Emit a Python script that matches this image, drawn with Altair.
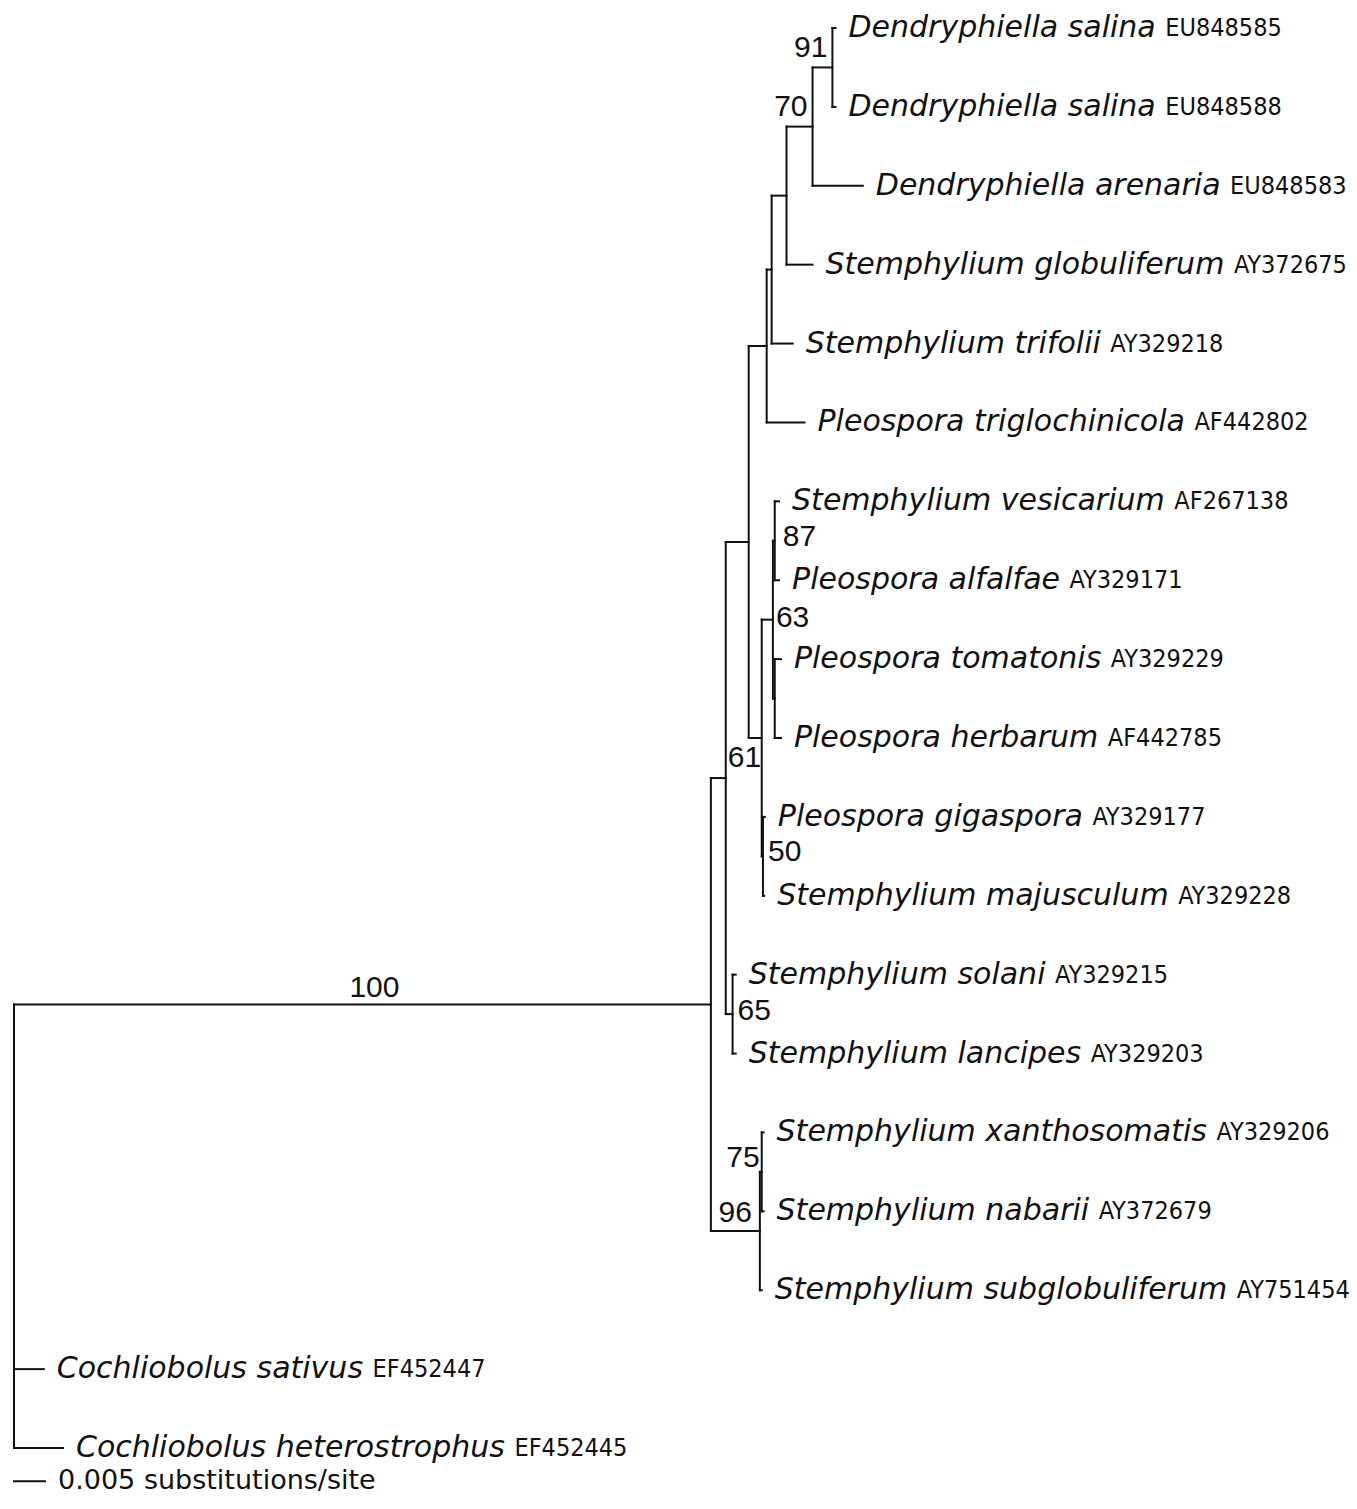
import altair as alt
import pandas as pd

# ---------------- data ----------------
tip_names = [
    "Dendryphiella salina", "Dendryphiella salina", "Dendryphiella arenaria",
    "Stemphylium globuliferum", "Stemphylium trifolii", "Pleospora triglochinicola",
    "Stemphylium vesicarium", "Pleospora alfalfae", "Pleospora tomatonis",
    "Pleospora herbarum", "Pleospora gigaspora", "Stemphylium majusculum",
    "Stemphylium solani", "Stemphylium lancipes", "Stemphylium xanthosomatis",
    "Stemphylium nabarii", "Stemphylium subglobuliferum",
    "Cochliobolus sativus", "Cochliobolus heterostrophus",
]
tip_accessions = [
    "EU848585", "EU848588", "EU848583", "AY372675", "AY329218", "AF442802",
    "AF267138", "AY329171", "AY329229", "AF442785", "AY329177", "AY329228",
    "AY329215", "AY329203", "AY329206", "AY372679", "AY751454",
    "EF452447", "EF452445",
]
tip_parents = ["N91", "N91", "N70", "NB3", "NB2", "NB", "N87", "N87", "NTH", "NTH",
               "N50", "N50", "N65", "N65", "N75", "N75", "N96", "root", "root"]
tip_lengths = [0.0005, 0.0005, 0.0081, 0.0042, 0.0034, 0.0061, 0.0007, 0.0007, 0.0010,
               0.0010, 0.0003, 0.0002, 0.0005, 0.0005, 0.0003, 0.0003, 0.0003,
               0.0048, 0.0079]

node_ids = ["N100", "N61", "NA", "NB", "NB2", "NB3", "N70", "N91", "NC", "N63",
            "N87", "NTH", "N50", "N65", "N96", "N75"]
node_parents = ["root", "N100", "N61", "NA", "NB", "NB2", "NB3", "N70", "NA", "NC",
                "N63", "N63", "NC", "N61", "N100", "N96"]
node_lengths = [0.1124, 0.0024, 0.0037, 0.0029, 0.0008, 0.0024, 0.0042, 0.0032, 0.0021,
                0.0018, 0.0003, 0.0003, 0.0002, 0.0011, 0.0079, 0.0003]
node_support = [100, 61, None, None, None, None, 70, 91, None, 63, 87, None, 50, 65, 96, 75]

scale_bar_length = 0.005
scale_bar_label = "0.005 substitutions/site"

# ---------------- styles ----------------
SCALE_PX_PER_UNIT = 6200
X_RANGE_START = 6
TIP_TOP, TIP_BOTTOM = 20, 1440
SCALE_BAR_ROW = 18.42
NAME_FONT, NAME_SIZE = "DejaVu Sans", 30
ACC_FONT, ACC_SIZE = "DejaVu Sans Condensed", 25
SUP_FONT, SUP_SIZE = "Liberation Sans", 30
LABEL_GAP = 13
INK = "#111111"

# support label placement (px offsets from node; "mid" = middle of the branch)
support_style = {
    "N100": dict(anchor="mid", dx=12, dy=-17, align="center"),
    "N91": dict(anchor="node", dx=-5, dy=-19, align="right"),
    "N70": dict(anchor="node", dx=-5, dy=-20, align="right"),
    "N87": dict(anchor="node", dx=8, dy=-4, align="left"),
    "N63": dict(anchor="node", dx=3, dy=-2, align="left"),
    "N61": dict(anchor="node", dx=2, dy=-20, align="left"),
    "N50": dict(anchor="node", dx=5, dy=-4, align="left"),
    "N65": dict(anchor="node", dx=5, dy=-3, align="left"),
    "N75": dict(anchor="node", dx=-2, dy=-14, align="right"),
    "N96": dict(anchor="node", dx=-8, dy=-18, align="right"),
}

# DejaVu Sans advance widths (units per 2048 em) for measuring italic names
DV = {"a": 1255, "b": 1300, "c": 1126, "d": 1300, "e": 1260, "f": 721, "g": 1300,
      "h": 1298, "i": 569, "j": 569, "k": 1186, "l": 569, "m": 1995, "n": 1298,
      "o": 1253, "p": 1300, "q": 1300, "r": 842, "s": 1067, "t": 803, "u": 1298,
      "v": 1212, "w": 1675, "x": 1212, "y": 1212, "z": 1075, "C": 1430, "D": 1577,
      "P": 1235, "S": 1300, " ": 651}


def text_width(s, size):
    return sum(DV.get(ch, 1250) for ch in s) / 2048 * size


# ---------------- tree layout ----------------
tip_ids = [f"t{i}" for i in range(len(tip_names))]
parent, blen = {}, {}
for i, p, l in zip(tip_ids, tip_parents, tip_lengths):
    parent[i], blen[i] = p, l
for i, p, l in zip(node_ids, node_parents, node_lengths):
    parent[i], blen[i] = p, l
children = {}
for c, p in parent.items():
    children.setdefault(p, []).append(c)

xpos = {"root": 0.0}


def set_x(n):
    for c in children.get(n, []):
        xpos[c] = xpos[n] + blen[c]
        set_x(c)


set_x("root")

ypos = {t: float(k) for k, t in enumerate(tip_ids)}


def get_y(n):
    if n in ypos:
        return ypos[n]
    ys = [get_y(c) for c in children[n]]
    ypos[n] = (min(ys) + max(ys)) / 2
    return ypos[n]


get_y("root")

segs = []
for n, p in parent.items():
    segs.append(dict(x=xpos[p], x2=xpos[n], y=ypos[n], y2=ypos[n]))
for n, ch in children.items():
    ys = [ypos[c] for c in ch]
    segs.append(dict(x=xpos[n], x2=xpos[n], y=min(ys), y2=max(ys)))
segs.append(dict(x=0.0, x2=scale_bar_length, y=SCALE_BAR_ROW, y2=SCALE_BAR_ROW))
seg_df = pd.DataFrame(segs)

tips_df = pd.DataFrame({
    "name": tip_names, "acc": tip_accessions,
    "x": [xpos[t] for t in tip_ids], "y": [ypos[t] for t in tip_ids],
})

X = alt.X("x:Q", scale=alt.Scale(domain=[0, 0.2],
                                 range=[X_RANGE_START, X_RANGE_START + 0.2 * SCALE_PX_PER_UNIT]),
          axis=None)
Y = alt.Y("y:Q", scale=alt.Scale(domain=[0, 18], range=[TIP_TOP, TIP_BOTTOM]), axis=None)

layers = []
layers.append(
    alt.Chart(seg_df).mark_rule(color=INK, strokeWidth=2, strokeCap="square")
    .encode(x=X, x2="x2:Q", y=Y, y2="y2:Q")
)
layers.append(
    alt.Chart(tips_df).mark_text(align="left", baseline="middle", dx=LABEL_GAP,
                                 font=NAME_FONT, fontStyle="italic", fontSize=NAME_SIZE,
                                 color=INK)
    .encode(x=X, y=Y, text="name:N")
)
space_w = text_width(" ", NAME_SIZE)
for k in range(len(tip_names)):
    off = LABEL_GAP + text_width(tip_names[k], NAME_SIZE) + space_w
    layers.append(
        alt.Chart(tips_df.iloc[[k]]).mark_text(align="left", baseline="middle", dx=off,
                                               font=ACC_FONT, fontSize=ACC_SIZE, color=INK)
        .encode(x=X, y=Y, text="acc:N")
    )

for nid, sup in zip(node_ids, node_support):
    if sup is None:
        continue
    st = support_style[nid]
    if st["anchor"] == "mid":
        lx = (xpos[parent[nid]] + xpos[nid]) / 2
    else:
        lx = xpos[nid]
    d = pd.DataFrame({"x": [lx], "y": [ypos[nid]], "t": [str(sup)]})
    layers.append(
        alt.Chart(d).mark_text(align=st["align"], baseline="middle", dx=st["dx"], dy=st["dy"],
                               font=SUP_FONT, fontSize=SUP_SIZE, color=INK)
        .encode(x=X, y=Y, text="t:N")
    )

sb = pd.DataFrame({"x": [scale_bar_length], "y": [SCALE_BAR_ROW], "t": [scale_bar_label]})
layers.append(
    alt.Chart(sb).mark_text(align="left", baseline="middle", dx=LABEL_GAP, font="DejaVu Sans",
                            fontSize=27, color=INK)
    .encode(x=X, y=Y, text="t:N")
)

chart = (
    alt.layer(*layers)
    .properties(width=1341, height=1488, padding=0, autosize="none", background="white")
    .configure_view(stroke=None)
)

chart.save("out.html", embed_options={"renderer": "svg", "actions": False})
